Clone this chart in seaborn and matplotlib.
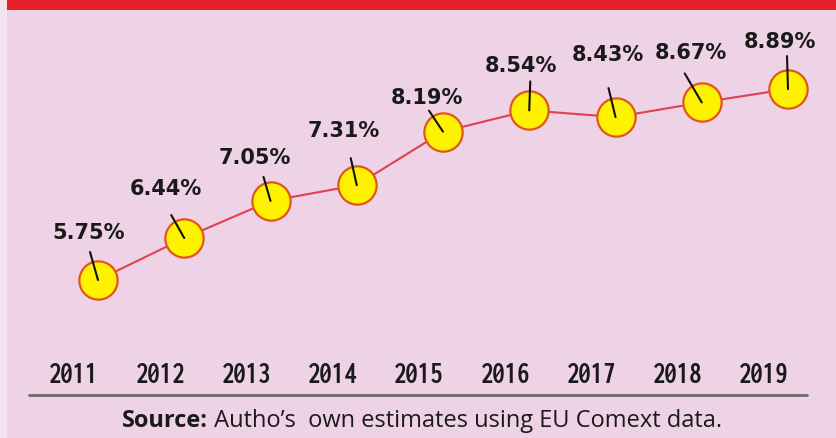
import matplotlib
matplotlib.use("Agg")
import matplotlib.pyplot as plt
from matplotlib.patches import Rectangle
from matplotlib.lines import Line2D
from matplotlib import font_manager as fm
from matplotlib.textpath import TextPath
import seaborn as sns
import pandas as pd

# ---- data ----
years = ["2011", "2012", "2013", "2014", "2015", "2016", "2017", "2018", "2019"]
shares = [5.75, 6.44, 7.05, 7.31, 8.19, 8.54, 8.43, 8.67, 8.89]
value_labels = ["5.75%", "6.44%", "7.05%", "7.31%", "8.19%", "8.54%", "8.43%", "8.67%", "8.89%"]
source_bold = "Source:"
source_rest = " Autho\u2019s  own estimates using EU Comext data."

# ---- styling / placement (pixel offsets from each point) ----
label_offsets = [(-9, 48), (-18, 50), (-16, 44), (-13, 55), (-16, 35),
                 (-8, 45), (-8, 63), (-11, 50), (-8, 48)]
leader_offsets = [(-8, 28), (-13, 23), (-7, 24), (-6, 27), (-14, 21),
                  (1, 29), (-7, 29), (-17, 29), (-1, 33)]

BG = "#EED3E6"
RED = "#E8202A"
LINE = "#E0404F"
FACE = "#FFF200"
EDGE = "#E2561C"

sns.set_theme(style="white")
plt.rcParams["font.family"] = ["DejaVu Sans"]

# choose a bold (not black) face whose digits are about as narrow as the reference's
TARGET_RATIO = 41 / 18   # width of "2011" / digit height, from the reference
CAP_PX = 19.5

def pick_year_font():
    best = None
    for f in fm.fontManager.ttflist:
        try:
            w = int(f.weight)
        except (TypeError, ValueError):
            w = 700 if "bold" in str(f.weight).lower() else 400
        if w < 600 or w > 800 or f.style != "normal":
            continue
        nm = (f.name + " " + f.fname).lower()
        if "black" in nm or "heavy" in nm or "extrabold" in nm:
            continue
        try:
            prop = fm.FontProperties(fname=f.fname, size=100)
            ext = TextPath((0, 0), "2011", prop=prop).get_extents()
            hgt = TextPath((0, 0), "2", prop=prop).get_extents().height
        except Exception:
            continue
        if hgt <= 0:
            continue
        ratio = ext.width / hgt
        score = abs(ratio - TARGET_RATIO)
        if best is None or score < best[0]:
            best = (score, f.fname, hgt / 100.0)
    return best

choice = pick_year_font()
if choice:
    _, fname, h_per_pt = choice
    size_pt = CAP_PX / h_per_pt * 72 / 100
    year_font = fm.FontProperties(fname=fname, size=size_pt)
else:
    year_font = fm.FontProperties(family="DejaVu Sans", weight="bold", size=14)

W, H = 836, 439
fig = plt.figure(figsize=(W / 100, H / 100), dpi=100, facecolor=BG)
ax = fig.add_axes([0, 0, 1, 1])
ax.set_facecolor(BG)
ax.axis("off")

df = pd.DataFrame({"idx": range(len(years)), "year": years, "share": shares})

sns.lineplot(data=df, x="idx", y="share", ax=ax, color=LINE, linewidth=1.5, zorder=2)
sns.scatterplot(data=df, x="idx", y="share", ax=ax, s=760, color=FACE,
                edgecolor=EDGE, linewidth=1.6, zorder=3, legend=False)

# scales so the points land like the reference
step = 86.25
x0 = 98
ax.set_xlim(-x0 / step, (W - x0) / step)
ppu = 60.8
ax.set_ylim(5.75 - (H - 281) / ppu, 5.75 + 281 / ppu)

for i, (v, lab) in enumerate(zip(shares, value_labels)):
    lx, ly = leader_offsets[i]
    ax.annotate("", xy=(i, v), xytext=(lx, ly), textcoords="offset pixels",
                arrowprops=dict(arrowstyle="-", color="#111111", lw=1.5,
                                shrinkA=0, shrinkB=0), zorder=4)
    tx, ty = label_offsets[i]
    ax.annotate(lab, xy=(i, v), xytext=(tx, ty), textcoords="offset pixels",
                ha="center", va="center", fontsize=15, fontweight="bold",
                color="#1a1a1a", zorder=5)

# year labels (sit a little left of each point, as in the reference)
for i, y in enumerate(years):
    ax.annotate(y, xy=(i, (H - 383) / H), xycoords=ax.get_xaxis_transform(),
                xytext=(-24, 0), textcoords="offset pixels",
                ha="center", va="baseline", fontproperties=year_font,
                color="#1a1a1a")

# separator line
fig.add_artist(Line2D([29 / W, 807 / W], [(H - 396) / H] * 2, color="#6b6b6b", lw=2))

# top red band and left strip
fig.add_artist(Rectangle((7 / W, 1 - 11 / H), 1, 11 / H, transform=fig.transFigure,
                         color=RED, lw=0, zorder=10))
fig.add_artist(Rectangle((0, 0), 7 / W, 1, transform=fig.transFigure,
                         color="#F3E3EE", lw=0, zorder=10))

# source line (bold + regular, centred together)
fig.canvas.draw()
r = fig.canvas.get_renderer()
yb = (H - 427) / H
t1 = fig.text(0, yb, source_bold, fontsize=17, fontweight="bold",
              family=["Open Sans", "DejaVu Sans"], color="#1a1a1a", va="baseline")
t2 = fig.text(0, yb, source_rest, fontsize=17,
              family=["Open Sans", "DejaVu Sans"], color="#1a1a1a", va="baseline")
w1 = t1.get_window_extent(r).width
w2 = t2.get_window_extent(r).width
start = 422 - (w1 + w2) / 2
t1.set_x(start / W)
t2.set_x((start + w1) / W)

fig.savefig("out.png", dpi=100, facecolor=BG)
